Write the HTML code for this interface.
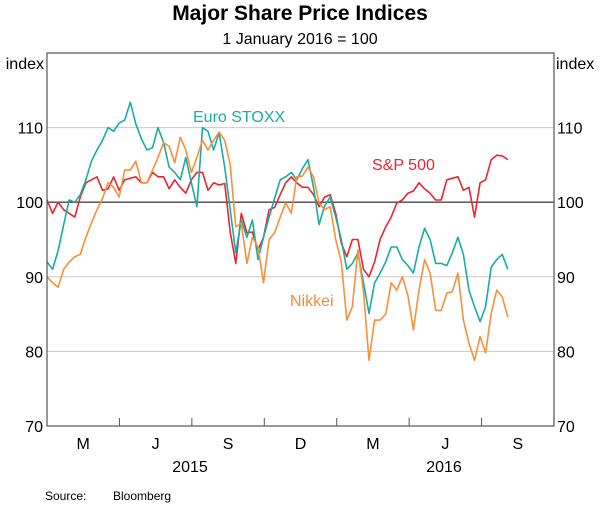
<!DOCTYPE html>
<html><head><meta charset="utf-8"><style>
html,body{margin:0;padding:0;background:#fff;}
svg{display:block;font-family:"Liberation Sans",Arial,sans-serif;}
</style></head><body>
<svg id="chart" width="600" height="507" viewBox="0 0 600 507">
<text x="300" y="20" text-anchor="middle" font-size="21" font-weight="bold" fill="#000">Major Share Price Indices</text>
<text x="300" y="44" text-anchor="middle" font-size="16" fill="#000">1 January 2016 = 100</text>
<text x="44" y="69" text-anchor="end" font-size="16" fill="#000">index</text>
<text x="556" y="69" text-anchor="start" font-size="16" fill="#000">index</text>
<g id="grid"></g>
<g id="series"></g>
<rect x="47" y="53" width="507" height="373" fill="none" stroke="#555" stroke-width="1.2"/>
<g id="axes"></g>
<text x="193" y="122" font-size="16" fill="#17ada3">Euro STOXX</text>
<text x="372" y="170" font-size="16" fill="#e8262e">S&amp;P 500</text>
<text x="290" y="306" font-size="16" fill="#f5893a">Nikkei</text>
<text x="45" y="500" font-size="12" fill="#000">Source:</text>
<text x="113" y="500" font-size="12" fill="#000">Bloomberg</text>
</svg>
<script>
const yTicks = [70, 80, 90, 100, 110];
const quarterLabels = ["M", "J", "S", "D", "M", "J", "S"];
const yearLabels = ["2015", "2016"];
const euroStoxx = [92,91,93.5,97,100.3,100,101,103,105.5,107,108.3,110,109.5,110.6,111,113.4,110.5,108.5,107,107.3,110,108,104.7,104,103,106,102.6,99.4,110,109.5,107,109.3,104.7,99,93.2,97.6,95.3,97.6,92.3,95.3,98,100.5,103,103.4,104,103,104.5,105.7,102,97,99.5,100.7,98,95,91,91.8,93.2,89.2,85.1,89.2,90.5,92,94,94,92.3,91.5,90.5,94,96.5,95,91.8,91.8,91.5,93.2,95.3,93,88.2,86,84,86,91.3,92.3,93,91];
const sp500 = [100.3,98.5,100,99,98.5,98,100.7,102.6,103,103.4,101.6,101.8,103.4,101.6,103,103.2,103.4,102.6,102.6,104,103.4,103.4,101.8,103,102,101.2,103,104,104,101.6,102.6,102.3,102.5,96,91.8,98.5,95.9,96,93.6,95.3,99,99.3,101,102.6,103.4,102.6,102,102,101,99.4,100.7,101,98.5,94.5,92.7,95,95,91,90,92,95,96.7,98,99.9,100.3,101.2,101.5,102.6,101.8,101.2,100.3,100.3,103,103.2,103.4,101.6,102,98,102.6,103,105.7,106.3,106.2,105.7];
const nikkei = [90,89.2,88.6,91,92,92.7,93,95.3,97.2,99,100.5,102.6,102,100.7,104.3,104.3,105.5,102.6,102.6,104.3,106,108,107.5,105.3,108.7,107,104,106,108.3,107,108.3,109.4,108.3,105,96.7,97.2,91.8,95.3,94,89.2,95,95.9,98,99.9,98.5,103.4,103.5,104.7,103.4,99.9,99,99.4,95,92,84.2,86,93.6,88,78.8,84.2,84.2,85,89.2,88.2,90,87.5,82.9,88.2,92.3,90.5,85.5,85.5,87.8,88,90.5,84.2,81.1,78.8,82,79.8,85.1,88.2,87.3,84.6];

const NS = "http://www.w3.org/2000/svg";
const L = 47, R = 554, T = 53, B = 426;
const yMin = 70, yMax = 120;
const weeksTotal = 21 * 52.18 / 12;
function y(v){ return B - (v - yMin) / (yMax - yMin) * (B - T); }
function x(i){ return L + i / weeksTotal * (R - L); }
function qx(q){ return L + q * (R - L) / 7; }
function mk(tag, attrs, parent){ const e = document.createElementNS(NS, tag); for (const k in attrs) e.setAttribute(k, attrs[k]); parent.appendChild(e); return e; }

const grid = document.getElementById("grid");
const axes = document.getElementById("axes");
yTicks.forEach(v => {
  if (v !== 70) {
    const g = mk("line", {x1: L, x2: R, y1: y(v), y2: y(v), stroke: v === 100 ? "#444" : "#c8c8c8", "stroke-width": v === 100 ? 1.3 : 1}, grid);
    
    
  }
  const tl = mk("text", {x: L - 4, y: y(v) + 6, "text-anchor": "end", "font-size": 16}, axes);
  tl.textContent = v;
  
  
  const tr = mk("text", {x: R + 3, y: y(v) + 6, "text-anchor": "start", "font-size": 16}, axes);
  tr.textContent = v;
  
  
});
quarterLabels.forEach((lab, q) => {
  if (q > 0) {
    const t = mk("line", {x1: qx(q), x2: qx(q), y1: B, y2: B - 8, stroke: "#555", "stroke-width": 1}, axes);
    
    
  }
  const tx = mk("text", {x: (qx(q) + qx(q + 1)) / 2, y: B + 23, "text-anchor": "middle", "font-size": 16}, axes);
  tx.textContent = lab;
  
  
});
yearLabels.forEach((lab, k) => {
  const tx = mk("text", {x: k === 0 ? 190 : 444, y: B + 46, "text-anchor": "middle", "font-size": 16}, axes);
  tx.textContent = lab;
  
  
});
const seriesG = document.getElementById("series");
function drawLine(data, color, name){
  const d = data.map((v, i) => (i ? "L" : "M") + x(i).toFixed(1) + "," + y(v).toFixed(1)).join(" ");
  const p = mk("path", {d: d, fill: "none", stroke: color, "stroke-width": 1.6, "stroke-linejoin": "round"}, seriesG);
  
  
}
drawLine(sp500, "#e8262e", "sp500-line");
drawLine(euroStoxx, "#17ada3", "euro-stoxx-line");
drawLine(nikkei, "#f7903a", "nikkei-line");
</script>
</body></html>
